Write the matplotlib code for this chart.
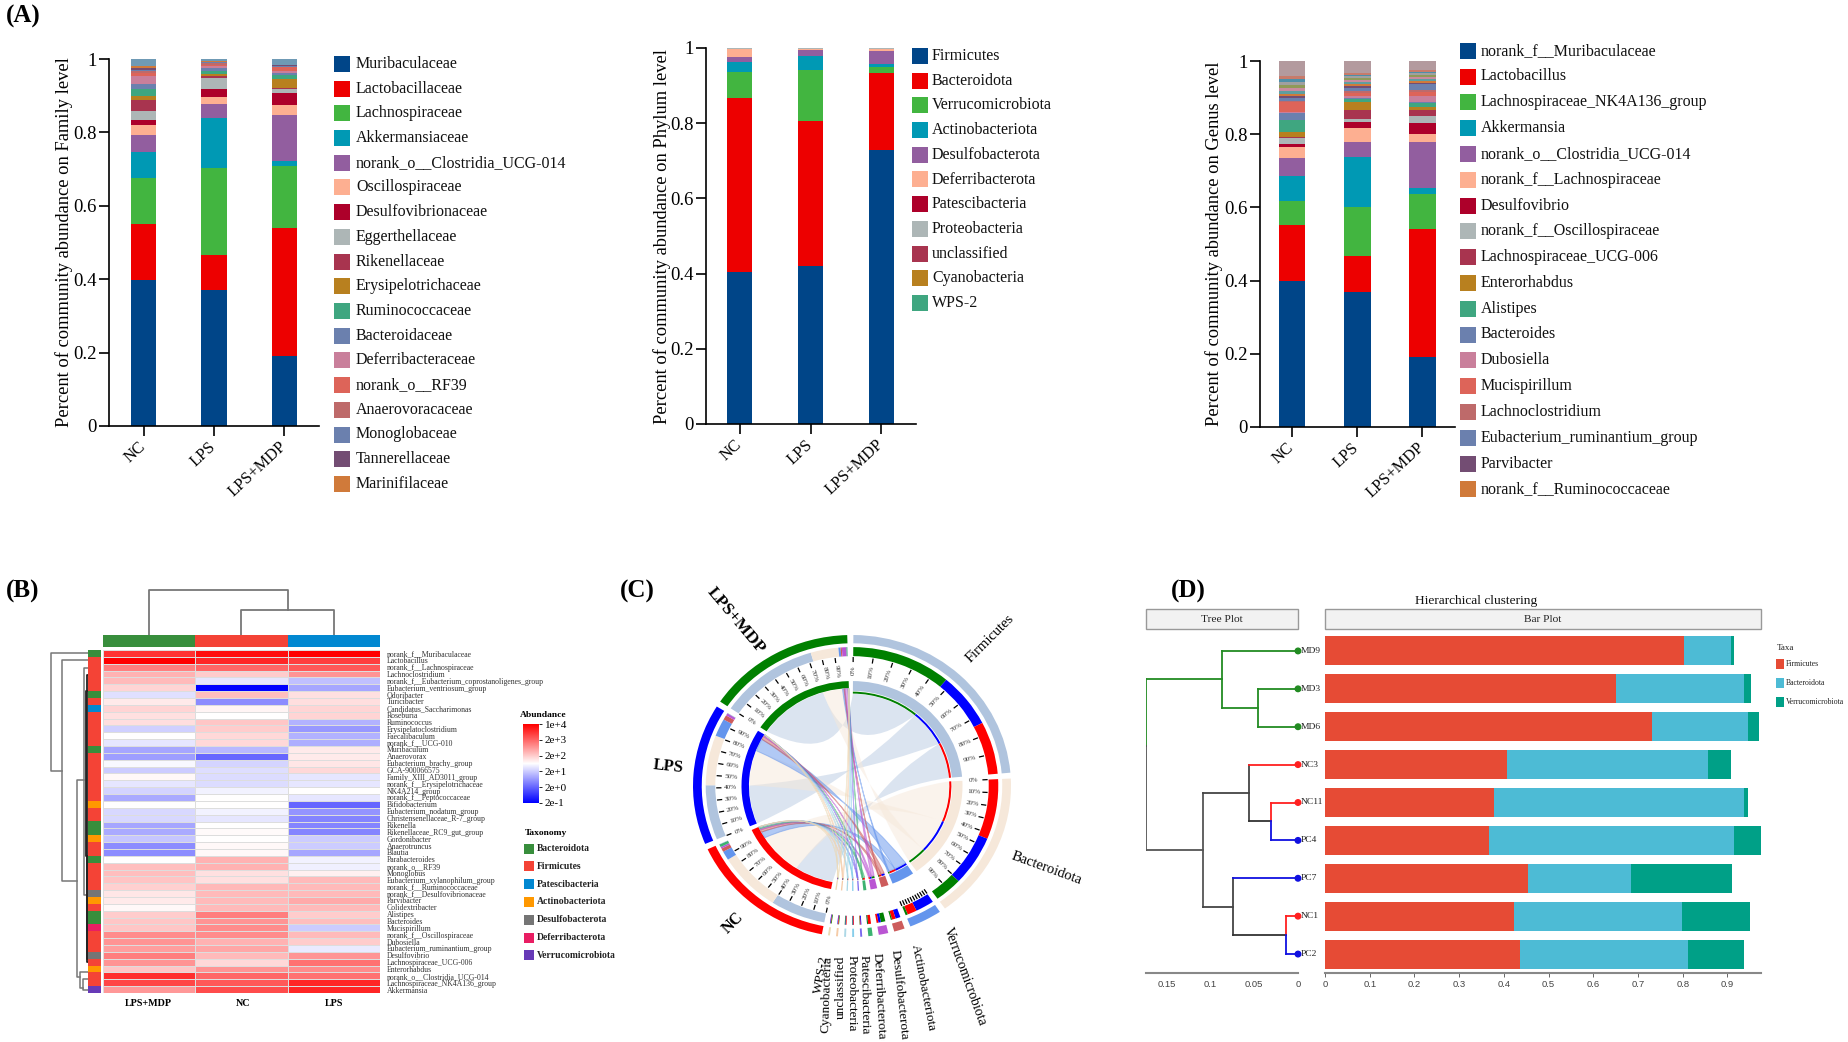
import numpy as np
import matplotlib
matplotlib.use("Agg")
import matplotlib.pyplot as plt
from matplotlib.patches import Rectangle, Wedge, PathPatch
from matplotlib.path import Path
from matplotlib.colors import LinearSegmentedColormap
from matplotlib.transforms import ScaledTranslation

W, H = 1849, 1042
plt.rcParams['font.family'] = ['Liberation Serif', 'DejaVu Serif']

groups = ["NC", "LPS", "LPS+MDP"]

# ---- Panel A: stacked bars, cumulative tops
family_names = ["Muribaculaceae", "Lactobacillaceae", "Lachnospiraceae", "Akkermansiaceae",
                "norank_o__Clostridia_UCG-014", "Oscillospiraceae", "Desulfovibrionaceae",
                "Eggerthellaceae", "Rikenellaceae", "Erysipelotrichaceae", "Ruminococcaceae",
                "Bacteroidaceae", "Deferribacteraceae", "norank_o__RF39", "Anaerovoracaceae",
                "Monoglobaceae", "Tannerellaceae", "Marinifilaceae"]
family_nc = [.399, .551, .677, .746, .794, .820, .834, .857, .888, .900, .917, .932, .953, .961, .966, .971, .976, .982, 1.0]
family_lps = [.371, .467, .702, .838, .877, .896, .917, .949, .953, .958, .968, .975, .980, .985, .988, .991, .993, .995, 1.0]
family_mdp = [.190, .540, .709, .723, .848, .874, .907, .917, .922, .945, .957, .963, .966, .977, .979, .982, .983, .984, 1.0]

phylum_names = ["Firmicutes", "Bacteroidota", "Verrucomicrobiota", "Actinobacteriota", "Desulfobacterota",
                "Deferribacterota", "Patescibacteria", "Proteobacteria", "unclassified", "Cyanobacteria", "WPS-2"]
phylum_nc = [.404, .867, .936, .963, .976, .997, .998, .9990, .9995, .9998, 1.0]
phylum_lps = [.421, .806, .942, .978, .996, .997, .9985, .9992, .9996, .9998, 1.0]
phylum_mdp = [.730, .933, .949, .958, .991, .998, .9985, .9990, .9994, .9997, 1.0]

genus_names = ["norank_f__Muribaculaceae", "Lactobacillus", "Lachnospiraceae_NK4A136_group", "Akkermansia",
               "norank_o__Clostridia_UCG-014", "norank_f__Lachnospiraceae", "Desulfovibrio",
               "norank_f__Oscillospiraceae", "Lachnospiraceae_UCG-006", "Enterorhabdus", "Alistipes", "Bacteroides",
               "Dubosiella", "Mucispirillum", "Lachnoclostridium", "Eubacterium_ruminantium_group", "Parvibacter",
               "norank_f__Ruminococcaceae"]
genus_nc = [.399, .551, .617, .686, .735, .766, .772, .790, .793, .807, .840, .857, .861, .887, .890, .900, .905, .909,
            .918, .927, .934, .942, .950, .958, 1.0]
genus_lps = [.368, .467, .602, .738, .780, .818, .833, .842, .866, .889, .896, .900, .905, .912, .918, .925, .932, .936,
             .942, .948, .953, .958, .962, .966, 1.0]
genus_mdp = [.190, .540, .637, .652, .778, .800, .830, .850, .866, .875, .885, .888, .905, .915, .921, .936, .941, .945,
             .951, .956, .961, .966, .970, .975, 1.0]

stack_colors = ["#004588", "#ED0000", "#42B540", "#0099B4", "#925E9F", "#FDAF91", "#AD002A", "#ADB6B6", "#A8344F",
                "#B8801F", "#3FA680", "#6B80AE", "#C97F9B", "#DD6459", "#BE6A6A", "#6B80AE", "#734D73", "#D07A3A"]
family_rest = ["#6F9AB5"]
genus_rest = ["#5F9EA0", "#C98B9E", "#8F9A58", "#A0A0A0", "#4E8FA8", "#C77B6B", "#B39A9E"]

# ---- Panel B: heat map (shade on -1..1 colour scale), columns LPS+MDP, NC, LPS
heat_cols = ["LPS+MDP", "NC", "LPS"]
heat_rows = ["norank_f__Muribaculaceae", "Lactobacillus", "norank_f__Lachnospiraceae", "Lachnoclostridium",
             "norank_f__Eubacterium_coprostanoligenes_group", "Eubacterium_ventriosum_group", "Odoribacter", "Turicibacter",
             "Candidatus_Saccharimonas", "Roseburia", "Ruminococcus", "Erysipelatoclostridium", "Faecalibaculum",
             "norank_f__UCG-010", "Muribaculum", "Anaerovorax", "Eubacterium_brachy_group", "GCA-900066575",
             "Family_XIII_AD3011_group", "norank_f__Erysipelotrichaceae", "NK4A214_group", "norank_f__Peptococcaceae",
             "Bifidobacterium", "Eubacterium_nodatum_group", "Christensenellaceae_R-7_group", "Rikenella",
             "Rikenellaceae_RC9_gut_group", "Gordonibacter", "Anaerotruncus", "Blautia", "Parabacteroides", "norank_o__RF39",
             "Monoglobus", "Eubacterium_xylanophilum_group", "norank_f__Ruminococcaceae", "norank_f__Desulfovibrionaceae",
             "Parvibacter", "Colidextribacter", "Alistipes", "Bacteroides", "Mucispirillum", "norank_f__Oscillospiraceae",
             "Dubosiella", "Eubacterium_ruminantium_group", "Desulfovibrio", "Lachnospiraceae_UCG-006", "Enterorhabdus",
             "norank_o__Clostridia_UCG-014", "Lachnospiraceae_NK4A136_group", "Akkermansia"]
heat_mdp = [.80, 1.0, .50, .30, .27, .17, -.12, .08, .17, .12, .13, -.18, 0, -.10, -.35, -.38, -.03, -.20, .03, -.10, -.17, -.33,
            0, -.15, -.15, -.35, -.33, -.22, -.45, -.45, 0, .25, .25, .23, .18, .10, .08, .03, .20, .22, .22, .45, .42, .38,
            .50, .42, .22, .82, .72, .40]
heat_nc = [.95, .85, .60, .20, -.10, -1.0, .25, -.45, .04, 0, .22, .20, .15, .15, -.28, -.60, -.17, -.13, -.14, -.14, -.05, 0,
           0, -.05, -.10, 0, .02, 0, .03, .03, .30, .30, .12, .12, .28, .27, .27, .27, .50, .42, .45, .45, .30, .35,
           .27, .15, .42, .60, .65, .70]
heat_lps = [1.0, .75, .65, .42, -.25, -.35, .12, .13, .17, .17, -.30, -.40, -.30, -.32, .08, .08, .10, .15, -.10, -.10, 0, -.10,
            -.60, -.42, -.48, -.48, -.48, -.20, -.20, -.35, -.05, -.06, .06, .27, .27, .27, .33, .27, .20, .25, -.20, .27, .20, -.08,
            .42, .55, .45, .55, .85, .85]
heat_col_colors = ["#388E3C", "#F44336", "#0288D1"]
taxa_names = ["Bacteroidota", "Firmicutes", "Patescibacteria", "Actinobacteriota", "Desulfobacterota", "Deferribacterota", "Verrucomicrobiota"]
taxa_colors = ["#388E3C", "#F44336", "#0288D1", "#FF9800", "#757575", "#E91E63", "#673AB7"]
row_taxa = [0, 1, 1, 1, 1, 1, 0, 1, 2, 1, 1, 1, 1, 1, 0, 1, 1, 1, 1, 1, 1, 1, 3, 1, 1, 0, 0, 3, 1, 1, 0, 1, 1, 1, 1, 4, 3, 1,
            0, 0, 5, 1, 1, 1, 4, 1, 3, 1, 1, 6]
abund_ticks = ["2e-1", "2e+0", "2e+1", "2e+2", "2e+3", "1e+4"]
# row dendrogram links: parent x, row a, child x a, row b, child x b (x in screen-like units)
row_links = [(51, 0.5, 88, 17.6, 62), (62, 1.5, 88, 33.7, 77), (77, 19.0, 84, 47.7, 80), (84, 2.6, 88, 35.7, 87),
             (87, 3.6, 88, 45.5, 88), (80, 47.0, 88, 49.3, 83), (83, 48.0, 88, 49.5, 88), (86, 6.0, 88, 30.0, 88), (86.5, 30.0, 88, 45.0, 88)]

# ---- Panel C: chord sectors are derived from the phylum table
chord_colors = ["#B0C4DE", "#F6E8DA", "#6495ED", "#CD5C5C", "#BA55D3", "#3CB371", "#7B68EE", "#87CEEB", "#ADD8E6", "#F5CBA7", "#EBD9B4"]
chord_group_colors = ["#FF0000", "#0000FF", "#008000"]

# ---- Panel D: hierarchical clustering
samples = ["MD9", "MD3", "MD6", "NC3", "NC11", "PC4", "PC7", "NC1", "PC2"]
d_firm = [.802, .651, .732, .406, .378, .367, .455, .423, .437]
d_bact = [.107, .286, .215, .451, .559, .547, .230, .375, .375]
d_verr = [.005, .016, .023, .052, .009, .061, .226, .152, .125]
d_colors = ["#E64B35", "#4DBBD5", "#00A087"]
d_taxa = ["Firmicutes", "Bacteroidota", "Verrucomicrobiota"]
leaf_colors = ["#228B22", "#228B22", "#228B22", "#FF2020", "#FF2020", "#1010E0", "#1010E0", "#FF2020", "#1010E0"]
# tree: (height, y) nodes
tree_segments = [
    (0, 0, .087, 0, "#228B22"), (0, 1, .046, 1, "#228B22"), (0, 2, .046, 2, "#228B22"),
    (.046, 1, .046, 2, "#228B22"), (.046, 1.5, .087, 1.5, "#228B22"), (.087, 0, .087, 1.5, "#228B22"),
    (.087, .74, .1736, .74, "#228B22"), (.1736, .74, .1736, 2.5, "#228B22"),
    (.1736, 2.5, .1736, 5.25, "#555555"), (.1736, 5.25, .1085, 5.25, "#555555"), (.1085, 3.75, .1085, 6.75, "#555555"),
    (.1085, 3.75, .0556, 3.75, "#444444"), (.0556, 3, .0556, 4.5, "#444444"), (0, 3, .0556, 3, "#FF2020"),
    (.0556, 4.5, .0304, 4.5, "#333333"), (.0304, 4, .0304, 4.5, "#FF2020"), (.0304, 4.5, .0304, 5, "#1010E0"),
    (0, 4, .0304, 4, "#FF2020"), (0, 5, .0304, 5, "#1010E0"),
    (.1085, 6.75, .074, 6.75, "#444444"), (.074, 6, .074, 7.5, "#444444"), (0, 6, .074, 6, "#1010E0"),
    (.074, 7.5, .0136, 7.5, "#333333"), (.0136, 7, .0136, 7.5, "#FF2020"), (.0136, 7.5, .0136, 8, "#1010E0"),
    (0, 7, .0136, 7, "#FF2020"), (0, 8, .0136, 8, "#1010E0"),
]

fig = plt.figure(figsize=(W / 100, H / 100), dpi=100, facecolor="white")


def ax_px(l, t, r, b):
    return fig.add_axes([l / W, 1 - b / H, (r - l) / W, (b - t) / H])


def ftext(x, y, s, **kw):
    kw.setdefault("ha", "left")
    kw.setdefault("va", "center")
    return fig.text(x / W, 1 - y / H, s, **kw)


def swatch(x0, x1, y, h, color):
    fig.add_artist(Rectangle((x0 / W, 1 - (y + h / 2) / H), (x1 - x0) / W, h / H, transform=fig.transFigure,
                             facecolor=color, edgecolor="none"))


def stacked(rect, xlim, width, tops, colors, ylabel, label_x, names, leg):
    ax = ax_px(*rect)
    for i, t in enumerate(tops):
        prev = np.concatenate([[0], np.array(t)[:-1]])
        ax.bar(np.full(len(t), i), np.array(t) - prev, bottom=prev, width=width, color=colors[:len(t)], linewidth=0)
    ax.set_xlim(*xlim)
    ax.set_ylim(0, 1)
    for s in ("top", "right"):
        ax.spines[s].set_visible(False)
    for s in ("left", "bottom"):
        ax.spines[s].set_linewidth(1.2)
    ax.set_yticks([0, .2, .4, .6, .8, 1])
    ax.set_yticklabels(["0", "0.2", "0.4", "0.6", "0.8", "1"], fontsize=13.5)
    ax.tick_params(axis="y", length=7, width=1.2, pad=2)
    ax.tick_params(axis="x", length=7, width=1.2, pad=2)
    ax.set_xticks(range(3))
    ax.set_xticklabels(groups, rotation=43, ha="right", rotation_mode="anchor", fontsize=11.8)
    for lab in ax.get_xticklabels():
        lab.set_transform(lab.get_transform() + ScaledTranslation(-6 / 100, 0, fig.dpi_scale_trans))
    ftext(label_x, (rect[1] + rect[3]) / 2, ylabel, rotation=90, ha="center", fontsize=13.3)
    x0, x1, tx, y0, dy, h = leg
    for i, n in enumerate(names):
        swatch(x0, x1, y0 + dy * i, h, colors[i])
        ftext(tx, y0 + dy * i, n, fontsize=11.5, color="#111111")
    return ax


stacked((109, 59, 319, 426), (-.49, 2.49), .355, [family_nc, family_lps, family_mdp], stack_colors + family_rest,
        "Percent of community abundance on Family level", 64, family_names, (334, 350, 356, 64, 24.7, 16))
stacked((706, 48, 916, 424), (-.48, 2.49), .355, [phylum_nc, phylum_lps, phylum_mdp], stack_colors[:11],
        "Percent of community abundance on Phylum level", 662, phylum_names, (912, 928, 932, 56, 24.7, 16))
stacked((1260, 61, 1455, 427), (-.49, 2.5), .41, [genus_nc, genus_lps, genus_mdp], stack_colors + genus_rest,
        "Percent of community abundance on Genus level", 1214, genus_names, (1460, 1476, 1481, 50.7, 25.8, 16))

for x, y, s in [(6, 16, "(A)"), (6, 591, "(B)"), (620, 591, "(C)"), (1171, 591, "(D)")]:
    ftext(x, y, s, fontsize=18, fontweight="bold")

# ------------------ Panel B
cmap = LinearSegmentedColormap.from_list("abund", ["#0000FF", "#FFFFFF", "#FF0000"])
heat = np.array([heat_mdp, heat_nc, heat_lps]).T
ax = ax_px(103, 650, 380, 993)
ax.pcolormesh(heat, cmap=cmap, vmin=-1, vmax=1, edgecolors="#DDDDDD", linewidth=.5)
ax.set_ylim(50, 0)
ax.set_xlim(0, 3)
for s in ax.spines.values():
    s.set_visible(False)
ax.set_xticks([.49, 1.52, 2.5])
ax.set_xticklabels(heat_cols, fontsize=7.3, fontweight="bold")
ax.tick_params(axis="x", length=0, pad=4)
ax.yaxis.tick_right()
ax.set_yticks(np.arange(50) + .5)
ax.set_yticklabels(heat_rows, fontsize=5.6, color="#333333")
ax.tick_params(axis="y", length=0, pad=5)

ax = ax_px(103, 635, 380, 647)
ax.imshow([[0, 1, 2]], aspect="auto", cmap=matplotlib.colors.ListedColormap(heat_col_colors), extent=(0, 3, 0, 1))
ax.axis("off")

ax = ax_px(103, 585, 380, 635)
ax.plot([.5, .5, 2.0, 2.0], [0, 1.0, 1.0, .55], color="#777777", lw=1.3)
ax.plot([1.5, 1.5, 2.5, 2.5], [0, .55, .55, 0], color="#777777", lw=1.3)
ax.set_xlim(0, 3)
ax.set_ylim(0, 1.1)
ax.axis("off")

ax = ax_px(88, 650, 100, 993)
ax.imshow(np.array(row_taxa)[:, None], aspect="auto", cmap=matplotlib.colors.ListedColormap(taxa_colors), vmin=0, vmax=6,
          extent=(0, 1, 50, 0), interpolation="nearest")
ax.axis("off")

ax = ax_px(50, 650, 88, 993)
for px, ra, xa, rb, xb in row_links:
    c = "#222222" if px >= 86 else "#777777"
    ax.plot([xa, px, px, xb], [ra, ra, rb, rb], color=c, lw=1.1 if c == "#777777" else 1.3)
ax.set_xlim(50, 88)
ax.set_ylim(50, 0)
ax.axis("off")

cax = ax_px(523, 724, 539, 803)
grad = np.linspace(1, -1, 200)[:, None]
cax.imshow(grad, aspect="auto", cmap=cmap, vmin=-1, vmax=1, extent=(0, 1, -1, 1))
cax.set_xticks([])
cax.yaxis.tick_right()
cax.set_yticks(np.linspace(-1, 1, 6))
cax.set_yticklabels(abund_ticks, fontsize=8)
cax.tick_params(axis="y", length=2, pad=2, width=.6)
for s in cax.spines.values():
    s.set_visible(False)
ftext(520, 715, "Abundance", fontsize=6.8, fontweight="bold")
ftext(525, 833, "Taxonomy", fontsize=6.8, fontweight="bold")
for i, (n, c) in enumerate(zip(taxa_names, taxa_colors)):
    swatch(524, 534, 848.5 + 17.8 * i, 10, c)
    ftext(537, 848.5 + 17.8 * i, n, fontsize=6.9, fontweight="bold", color="#222222")

# ------------------ Panel C
ax = ax_px(693, 635, 1011, 937)
ax.set_xlim(-1, 1)
ax.set_ylim(-1, 1)
ax.axis("off")

table = np.array([np.diff(np.r_[0, t]) for t in (phylum_nc, phylum_lps, phylum_mdp)])  # groups x phyla
UNIT = 54.3
MIN_SECTOR = .7
sector_sizes = [max(UNIT * table[:, i].sum(), MIN_SECTOR) for i in range(table.shape[1])] + [UNIT] * 3
GAP = (360 - sum(sector_sizes)) / len(sector_sizes)
starts = np.cumsum([0] + [s + GAP for s in sector_sizes[:-1]]) + .5


def ring(a0, a1, r0, r1, color, **kw):
    ax.add_patch(Wedge((0, 0), r1, 90 - a1, 90 - a0, width=r1 - r0, facecolor=color, edgecolor="none", **kw))


def polar(a, r):
    t = np.deg2rad(a)
    return r * np.sin(t), r * np.cos(t)


n_ph = table.shape[1]
ph_slices = {}
gr_slices = {}
for i in range(n_ph):
    a0, size = starts[i], sector_sizes[i]
    total = table[:, i].sum()
    ring(a0, a0 + size, .945, 1, chord_colors[i])
    ring(a0, a0 + size, .63, .695, chord_colors[i])
    pos = a0
    for g in np.argsort(-table[:, i]):
        w = table[g, i] / total * size
        ring(pos, pos + w, .86, .92, chord_group_colors[g])
        ring(pos, pos + w, .612, .625, chord_group_colors[g])
        ph_slices[(i, g)] = (pos, pos + w)
        pos += w
for g in range(3):
    a0 = starts[n_ph + g]
    ring(a0, a0 + UNIT, .945, 1, chord_group_colors[g])
    ring(a0, a0 + UNIT, .648, .695, chord_group_colors[g])
    pos = a0
    for i in range(n_ph):
        w = table[g, i] * UNIT
        ring(pos, pos + w, .86, .92, chord_colors[i])
        gr_slices[(i, g)] = (pos, pos + w)
        pos += w

for i in range(n_ph):
    for g in range(3):
        p0, p1 = ph_slices[(i, g)]
        g0, g1 = gr_slices[(i, g)]
        pa = np.linspace(p0, p1, 24)
        ga = np.linspace(g0, g1, 24)
        c0 = (np.array(polar(pa[0], .61)) + np.array(polar(ga[0], .645))) * .12
        c1 = (np.array(polar(pa[0], .61)) + np.array(polar(ga[-1], .645))) * .12
        verts = [polar(a, .61) for a in pa]
        codes = [Path.MOVETO] + [Path.LINETO] * 23
        verts += [tuple(c1), polar(ga[-1], .645)]
        codes += [Path.CURVE3, Path.CURVE3]
        verts += [polar(a, .645) for a in ga[::-1][1:]]
        codes += [Path.LINETO] * 23
        verts += [tuple(c0), polar(pa[0], .61)]
        codes += [Path.CURVE3, Path.CURVE3]
        c = chord_colors[i]
        ax.add_patch(PathPatch(Path(verts, codes), facecolor=c, edgecolor=c, lw=.7 if i > 1 else 0,
                               alpha=.5 if i > 0 else .45, zorder=1))

# tick marks and percentage labels on the larger sectors
for idx, size in enumerate(sector_sizes):
    if size < 8:
        continue
    a0 = starts[idx]
    is_large = size > 20
    for k in range(10 if is_large else 11):
        a = a0 + size * k / 10
        xa, ya = polar(a, .825)
        xb, yb = polar(a, .85)
        ax.plot([xa, xb], [ya, yb], color="black", lw=.9)
        if is_large:
            xt, yt = polar(a, .765)
            rot = 90 - a if a <= 180 else 270 - a
            ax.text(xt, yt, f"{k * 10}%", fontsize=5.2, rotation=rot, ha="center", va="center", color="#333333")

chord_labels = [("Firmicutes", 990, 639, 45, 10.5, "normal"), ("Bacteroidota", 1047, 868, -20, 10.5, "normal"),
                ("Verrucomicrobiota", 965, 977, -70, 10, "normal"), ("Actinobacteriota", 923, 988, -79, 9.5, "normal"),
                ("Desulfobacterota", 899, 995, -84, 9.5, "normal"), ("Deferribacterota", 879, 996, -87, 9.5, "normal"),
                ("Patescibacteria", 864, 995, -89, 9.5, "normal"), ("Proteobacteria", 852, 993, -90, 9.5, "normal"),
                ("unclassified", 841, 987, 90, 9.5, "normal"), ("Cyanobacteria", 827, 994, 88, 9.5, "normal"),
                ("WPS-2", 821, 975, 80, 9.5, "normal"), ("NC", 733, 923, 45, 11.5, "bold"), ("LPS", 668, 767, -6, 12, "bold"),
                ("LPS+MDP", 736, 621, -50, 12.5, "bold")]
for s, x, y, rot, fs, fw in chord_labels:
    ftext(x, y, s, rotation=rot, ha="center", fontsize=fs, fontweight=fw, rotation_mode="anchor")

# ------------------ Panel D
sans = ["Liberation Sans", "DejaVu Sans"]
ypos = np.arange(len(samples))
ax = ax_px(1325, 632, 1761, 973)
left = np.zeros(len(samples))
for vals, c in zip((d_firm, d_bact, d_verr), d_colors):
    ax.barh(ypos, vals, left=left, height=.765, color=c, linewidth=0)
    left = left + np.array(vals)
ax.set_ylim(8.5, -.5)
ax.set_xlim(0, .975)
for s in ("top", "right", "left"):
    ax.spines[s].set_visible(False)
ax.spines["bottom"].set_color("#888888")
ax.spines["bottom"].set_linewidth(1.5)
ax.set_yticks([])
ax.set_xticks(np.arange(0, 1, .1))
ax.set_xticklabels(["0", "0.1", "0.2", "0.3", "0.4", "0.5", "0.6", "0.7", "0.8", "0.9"], fontsize=6.8, family=sans, color="#444444")
ax.tick_params(axis="x", length=3, width=.7, color="#666666", pad=2)

ax = ax_px(1146, 632, 1298, 973)
for x0, y0, x1, y1, c in tree_segments:
    ax.plot([x0, x1], [y0, y1], color=c, lw=1.3, solid_capstyle="projecting")
ax.scatter(np.zeros(len(samples)), ypos, s=16, c=leaf_colors, clip_on=False, zorder=3)
for y, s in zip(ypos, samples):
    ax.text(-.0035, y, s, fontsize=6.8, va="center", ha="left", clip_on=False, color="#222222")
ax.set_ylim(8.5, -.5)
ax.set_xlim(.1736, 0)
for s in ("top", "right", "left"):
    ax.spines[s].set_visible(False)
ax.spines["bottom"].set_color("#888888")
ax.spines["bottom"].set_linewidth(1.5)
ax.set_yticks([])
ax.set_xticks([.15, .1, .05, 0])
ax.set_xticklabels(["0.15", "0.1", "0.05", "0"], fontsize=6.8, family=sans, color="#444444")
ax.tick_params(axis="x", length=0, pad=5)

for x0, x1, s in [(1146, 1298, "Tree Plot"), (1325, 1761, "Bar Plot")]:
    fig.add_artist(Rectangle((x0 / W, 1 - 629 / H), (x1 - x0) / W, 20 / H, transform=fig.transFigure,
                             facecolor="#F2F2F2", edgecolor="#999999", lw=1))
    ftext((x0 + x1) / 2, 619, s, ha="center", fontsize=8.2, color="#222222")
ftext(1476, 601, "Hierarchical clustering", ha="center", fontsize=9.6, color="#111111")
ftext(1777, 648, "Taxa", fontsize=6.5, color="#222222")
for i, (n, c) in enumerate(zip(d_taxa, d_colors)):
    swatch(1776, 1784, 664 + 19 * i, 10, c)
    ftext(1786, 664 + 19 * i, n, fontsize=5.6, color="#222222")

fig.savefig("out.png", dpi=100)
